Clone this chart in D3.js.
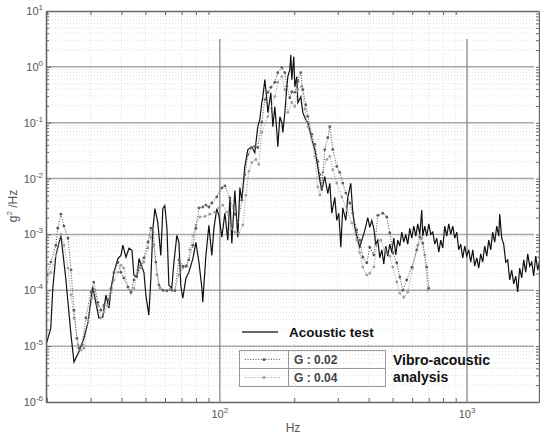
<!DOCTYPE html>
<html>
<head>
<meta charset="utf-8">
<script src="https://cdn.jsdelivr.net/npm/d3@7"></script>
<style>
  body { margin: 0; background: #fff; }
  text { font-family: "Liberation Sans", Arial, sans-serif; }
</style>
</head>
<body>
<svg id="chart" width="540" height="435"></svg>
<script>
// Acoustic test PSD (g^2/Hz)
var acousticHz = [19.8,20.7,21.1,21.7,22.75,23.8,25.0,25.7,26.9,28.2,
  29.3,30.6,32.4,33.6,34.6,35.6,36.3,37.3,38.7,39.8,
  40.5,41.7,42.9,44.1,44.9,46.2,47.1,48.4,49.3,50.2,
  51.6,52.6,53.6,54.6,56.1,57.7,58.8,59.9,61.1,62.2,
  63.9,65.2,67.0,68.3,69.5,70.8,72.9,74.9,77.8,80.0,
  82.3,84.6,85.3,87.8,90.3,92.8,94.6,97.2,99.1,101.9,
  104.8,107.7,109.8,111.8,115.0,118.2,120.5,122.7,126.2,129.8,
  134.7,138.5,142.4,145.1,147.8,149.2,152.1,154.9,156.4,160.8,
  163.8,166.9,170.1,171.6,174.9,178.2,179.8,183.2,186.6,188.4,
  191.9,193.7,195.5,199.1,201.0,204.8,206.8,212.6,216.6,222.7,
  227.0,235.5,242.2,249.0,253.8,258.5,265.8,273.3,278.5,283.7,
  291.7,297.2,302.9,308.6,314.2,323.3,329.4,338.7,345.1,351.6,
  361.4,368.2,375.2,385.8,396.7,404.2,411.8,
  419.5,427.4,435.5,443.6,452.0,460.5,469.2,477.9,486.9,496.1,
  505.3,514.8,524.5,534.4,544.5,554.6,565.1,575.7,586.6,597.6,
  608.9,620.3,632.0,643.9,656.0,662.1,674.5,687.1,700.1,713.3,
  726.7,740.4,754.3,768.5,783.0,797.6,812.6,827.9,843.5,859.3,
  875.5,892.0,908.8,925.6,943.0,960.7,978.8,997.2,1016,1035,
  1055,1074,1095,1115,1136,1157,1179,1202,1224,1247,
  1270,1294,1319,1344,1356,1381,1407,1434,1461,1488,
  1516,1545,1574,1603,1633,1664,1696,1728,1760,1793,
  1827,1861,1896,1932,1968];
var acousticG = [1.04e-5,2.1e-5,1.09e-4,4.2e-4,9.6e-4,1.64e-4,1.57e-5,5.2e-6,7.9e-6,1.39e-5,
  2.7e-5,1.15e-4,3.2e-5,3.3e-5,8.2e-5,4.8e-5,1.09e-4,2.1e-4,3.7e-4,4.2e-4,
  6.4e-4,3.9e-4,5.65e-4,5.2e-4,1.86e-4,1.7e-4,3.7e-4,2.6e-4,2.1e-4,8.2e-5,
  3.6e-5,1.64e-4,1.28e-3,2.9e-3,1.64e-3,4.2e-4,2.9e-3,3.3e-3,1.28e-3,1.23e-4,
  1.09e-4,3.2e-4,9.6e-4,7.2e-4,1.23e-4,7.2e-5,1.64e-4,2.1e-4,3.7e-4,7.2e-4,
  3.2e-4,1.09e-4,6.1e-5,4.2e-4,1.45e-3,4.2e-4,1.28e-3,2.9e-3,2.2e-3,8.9e-4,
  2.4e-3,7.9e-4,4.6e-3,6.9e-4,6.1e-3,8.9e-4,6.9e-3,4.1e-3,1.64e-2,3.3e-2,
  3.7e-2,2.9e-2,8.5e-2,0.113,0.228,0.29,0.59,0.26,0.151,0.344,
  8.5e-2,0.193,6.7e-2,3.7e-2,0.128,0.1,6.7e-2,0.151,0.44,0.67,
  0.89,1.64,0.59,1.51,0.44,0.67,0.228,0.29,0.151,0.113,
  0.1,5.0e-2,3.3e-2,1.64e-2,9.3e-3,6.1e-3,1.09e-2,5.4e-3,8.2e-3,2.4e-3,
  4.6e-3,1.78e-3,2.4e-3,5.9e-4,3.0e-3,1.78e-3,4.6e-3,8.2e-3,2.4e-3,1.34e-3,
  7.9e-4,5.9e-4,7.9e-4,1.18e-3,2.0e-3,1.34e-3,1.78e-3,
  1.29e-3,6.7e-4,7.9e-4,3.8e-4,5.3e-4,2.95e-4,6.2e-4,4.1e-4,6.7e-4,4.8e-4,
  8.6e-4,4.3e-4,7.9e-4,6.2e-4,1.1e-3,7.3e-4,1.0e-3,6.7e-4,1.29e-3,8.6e-4,
  1.41e-3,9.3e-4,1.54e-3,1.0e-3,2.73e-3,9.3e-4,1.41e-3,9.3e-4,1.54e-3,1.0e-3,
  1.1e-3,6.7e-4,8.6e-4,4.8e-4,7.9e-4,5.7e-4,1.41e-3,9.3e-4,1.54e-3,1.0e-3,
  1.41e-3,8.6e-4,1.1e-3,5.3e-4,6.7e-4,3.8e-4,6.2e-4,4.1e-4,5.3e-4,3.2e-4,
  5.3e-4,2.7e-4,3.8e-4,2.5e-4,4.5e-4,3.2e-4,6.2e-4,4.1e-4,7.9e-4,5.3e-4,
  1.1e-3,7.3e-4,1.41e-3,9.3e-4,2.32e-3,8.6e-4,6.7e-4,3.2e-4,3.5e-4,1.53e-4,
  2.3e-4,1.3e-4,1.8e-4,9.3e-5,2.5e-4,1.66e-4,3.5e-4,2.1e-4,4.5e-4,2.7e-4,
  3.2e-4,1.8e-4,4.1e-4,2.3e-4,3.5e-4];

// Vibro-acoustic analysis, G : 0.02
var g002Hz = [20.0,20.7,21.7,22.1,22.75,23.4,24.3,25.0,25.7,26.4,
  26.9,27.7,28.7,30.1,30.9,32.1,33.0,34.0,35.2,36.3,
  37.3,38.7,39.8,40.9,42.5,43.7,44.9,46.6,47.9,49.3,
  51.2,52.6,53.6,55.1,56.7,58.8,61.1,63.9,65.8,68.3,
  70.8,72.9,74.9,77.8,80.0,82.3,85.3,87.8,90.3,92.8,
  97.2,101.9,104.8,109.8,115.0,118.2,122.7,126.2,129.8,134.7,
  138.5,142.4,147.8,152.1,156.4,160.8,166.9,171.6,178.2,183.2,
  186.6,191.9,195.5,201.0,206.8,212.6,216.6,222.7,227.0,235.5,
  242.2,249.0,253.8,258.5,265.8,273.3,278.5,286.4,297.2,305.7,
  314.2,323.3,335.5,345.1,358.1,368.2,378.7,393.0,404.2,419.5,
  435.5,456.1,473.4,486.9,500.8,519.7,534.4,549.5,570.3,597.6,
  626,643.9,662.1,687.1,700.1];
var g002G = [1.87e-4,3.2e-4,6.4e-4,1.29e-3,2.3e-3,1.41e-3,8.6e-4,2.3e-4,4.4e-5,1.39e-5,
  9.2e-6,1.05e-5,3.2e-5,9.3e-5,1.4e-4,6.1e-5,4.4e-5,5.4e-5,6.7e-5,1.09e-4,
  2.1e-4,3.2e-4,2.1e-4,1.66e-4,1.14e-4,9.3e-5,1.53e-4,2.3e-4,2.8e-4,3.8e-4,
  7.3e-4,1.29e-3,1.1e-3,3.2e-4,1.24e-4,1.0e-4,9.8e-5,1.0e-4,9.8e-5,3.5e-4,
  2.7e-4,2.7e-4,3.5e-4,6.4e-4,1.29e-3,2.97e-3,3.1e-3,3.35e-3,3.1e-3,3.65e-3,
  4.7e-3,6.8e-3,7.4e-3,4.5e-3,2.3e-3,1.67e-3,4.1e-3,1.18e-2,2.7e-2,3.6e-2,
  3.75e-2,3.6e-2,0.101,0.26,0.35,0.43,0.53,0.79,0.97,0.79,
  0.45,0.28,0.36,0.35,0.55,0.79,0.39,0.21,0.13,6.2e-2,
  4.1e-2,2.0e-2,1.18e-2,6.8e-3,3.3e-2,5.4e-2,8.5e-2,3.3e-2,1.65e-2,1.29e-2,
  8.3e-3,5.5e-3,3.65e-3,2.4e-3,1.2e-3,7.9e-4,3.9e-4,3.1e-4,5.9e-4,4.3e-4,
  2.2e-3,2.4e-3,2.05e-3,1.06e-3,4.7e-4,3.1e-4,1.73e-4,1.0e-4,1.53e-4,2.6e-4,
  5.3e-4,9.0e-4,7.0e-4,2.6e-4,1.09e-4];

// Vibro-acoustic analysis, G : 0.04
var g004Hz = [20.0,20.7,21.7,22.75,23.4,24.3,25.0,25.7,26.7,27.4,
  28.2,29.3,30.4,31.2,32.1,33.0,34.0,35.2,36.3,37.3,
  38.7,39.8,40.9,42.5,43.7,44.9,46.6,47.9,49.3,51.2,
  52.6,54.1,55.6,57.2,59.9,62.8,65.8,68.3,70.8,73.6,
  75.6,77.8,80.0,83.0,87.0,91.1,95.5,99.1,102.8,106.7,
  110.8,115.0,119.3,123.9,127.4,131.0,134.7,139.8,143.8,147.8,
  156.4,166.9,171.6,178.2,183.2,188.4,195.5,201.0,206.8,214.6,
  220.7,227.0,235.5,242.2,249.0,253.8,260.9,270.8,278.5,286.4,
  297.2,311.3,326.3,341.8,358.1,368.2,378.7,393.0,404.2,419.5,
  431.5,447.8,464.8,486.9,500.8,519.7,534.4,554.6,575.7,603,
  632.0,656.0,674.5,693.7];
var g004G = [1.4e-4,2.1e-4,4.2e-4,1.0e-3,6.4e-4,2.5e-4,8.2e-5,3.2e-5,1.05e-5,8.5e-6,
  9.2e-6,2.9e-5,7.2e-5,1.0e-4,5.4e-5,3.2e-5,4.1e-5,5.4e-5,9.3e-5,1.53e-4,
  2.1e-4,2.8e-4,2.5e-4,1.14e-4,8.9e-5,1.09e-4,2.1e-4,2.5e-4,3.2e-4,5.7e-4,
  9.0e-4,6.4e-4,1.88e-4,1.09e-4,1.0e-4,1.05e-4,1.0e-4,1.88e-4,2.5e-4,2.7e-4,
  5.3e-4,9.7e-4,1.47e-3,2.05e-3,2.1e-3,2.3e-3,2.5e-3,2.97e-3,3.35e-3,2.5e-3,
  1.29e-3,1.1e-3,1.06e-3,1.47e-3,5.05e-3,1.34e-2,1.94e-2,2.2e-2,1.79e-2,6.7e-2,
  0.13,0.295,0.53,0.67,0.39,0.153,0.23,0.196,0.39,0.45,
  0.173,8.5e-2,5.0e-2,2.5e-2,7.1e-3,5.05e-3,1.29e-2,2.2e-2,2.5e-2,1.45e-2,
  8.3e-3,4.7e-3,2.73e-3,1.6e-3,7.9e-4,4.7e-4,2.6e-4,1.87e-4,2.0e-4,2.6e-4,
  6.4e-4,7.9e-4,5.3e-4,4.1e-4,2.6e-4,1.4e-4,8.9e-5,7.5e-5,9.3e-5,2.5e-4,
  6.4e-4,8.6e-4,4.3e-4,1.0e-4];

// axis ticks
var yMajor = [1e-6, 1e-5, 1e-4, 1e-3, 1e-2, 1e-1, 1, 10];
var yExp = ["-6", "-5", "-4", "-3", "-2", "-1", "0", "1"];
var xMajor = [100, 1000];
var xExp = ["2", "3"];
var minorMult = [2, 3, 4, 5, 6, 7, 8, 9];

var svg = d3.select("#chart");
var plotLeft = 46, plotRight = 539, plotTop = 11, plotBottom = 402;

var x = d3.scaleLog().domain([19.8, 1955]).range([plotLeft, plotRight]);
var y = d3.scaleLog().domain([1e-6, 10]).range([plotBottom, plotTop]);

// minor tick values
var xMinor = [];
[10, 100, 1000].forEach(function(dec) {
  minorMult.forEach(function(m) {
    var v = m * dec;
    if (v > 19.8 && v < 1955) xMinor.push(v);
  });
});
var yMinor = [];
yMajor.slice(0, 7).forEach(function(dec) {
  minorMult.forEach(function(m) { yMinor.push(m * dec); });
});

// minor grid (dotted)
svg.append("g").selectAll("line").data(xMinor).enter().append("line")
  .attr("x1", d => x(d)).attr("x2", d => x(d))
  .attr("y1", plotTop).attr("y2", plotBottom)
  .attr("stroke", "#d8d8d8").attr("stroke-width", 0.8).attr("stroke-dasharray", "1,2");
svg.append("g").selectAll("line").data(yMinor).enter().append("line")
  .attr("x1", plotLeft).attr("x2", 534)
  .attr("y1", d => y(d)).attr("y2", d => y(d))
  .attr("stroke", "#d8d8d8").attr("stroke-width", 0.8).attr("stroke-dasharray", "1,2");

// major grid
svg.append("g").selectAll("line").data(yMajor.slice(1, 7)).enter().append("line")
  .attr("x1", plotLeft).attr("x2", 534)
  .attr("y1", d => y(d)).attr("y2", d => y(d))
  .attr("stroke", "#a8a8a8").attr("stroke-width", 1.5);
svg.append("g").selectAll("line").data(xMajor).enter().append("line")
  .attr("x1", d => x(d)).attr("x2", d => x(d))
  .attr("y1", 39).attr("y2", plotBottom)
  .attr("stroke", "#8a8a8a").attr("stroke-width", 1.3);

// clip to plot area
svg.append("clipPath").attr("id", "clip").append("rect")
  .attr("x", plotLeft).attr("y", plotTop)
  .attr("width", plotRight - plotLeft).attr("height", plotBottom - plotTop);

var line = d3.line().x(d => x(d[0])).y(d => y(d[1]));
var plot = svg.append("g").attr("clip-path", "url(#clip)");

var acoustic = d3.zip(acousticHz, acousticG);
var g002 = d3.zip(g002Hz, g002G);
var g004 = d3.zip(g004Hz, g004G);

plot.append("path").datum(acoustic).attr("d", line)
  .attr("fill", "none").attr("stroke", "#111").attr("stroke-width", 1.2);

function dotted(data, color) {
  plot.append("path").datum(data).attr("d", line)
    .attr("fill", "none").attr("stroke", color).attr("stroke-width", 1.1)
    .attr("stroke-dasharray", "1,1.6");
  plot.append("g").selectAll("circle").data(data).enter().append("circle")
    .attr("cx", d => x(d[0])).attr("cy", d => y(d[1]))
    .attr("r", 1.4).attr("fill", color);
}
dotted(g004, "#a0a0a0");
dotted(g002, "#5e5e5e");

// axes: ticks only, labels drawn below with superscripts
var tickColor = "#666";
function styleAxis(g) {
  g.select(".domain").attr("stroke", tickColor).attr("stroke-width", 1.3);
  g.selectAll(".tick line").attr("stroke", tickColor);
}
svg.append("g").attr("transform", "translate(" + plotLeft + ",0)")
  .call(d3.axisLeft(y).tickValues(yMinor).tickSize(-3).tickFormat("").tickSizeOuter(0)).call(styleAxis);
svg.append("g").attr("transform", "translate(" + plotLeft + ",0)")
  .call(d3.axisLeft(y).tickValues(yMajor).tickSize(-5).tickFormat("").tickSizeOuter(0)).call(styleAxis);
svg.append("g").attr("transform", "translate(" + plotRight + ",0)")
  .call(d3.axisRight(y).tickValues(yMinor.concat(yMajor)).tickSize(-3).tickFormat("").tickSizeOuter(0)).call(styleAxis);
svg.append("g").attr("transform", "translate(0," + plotBottom + ")")
  .call(d3.axisBottom(x).tickValues(xMinor).tickSize(-4).tickFormat("").tickSizeOuter(0)).call(styleAxis);
svg.append("g").attr("transform", "translate(0," + plotTop + ")")
  .call(d3.axisTop(x).tickValues(xMinor).tickSize(-4).tickFormat("").tickSizeOuter(0)).call(styleAxis);

// tick labels
var yLab = svg.append("g").selectAll("text").data(yMajor).enter().append("text")
  .attr("x", 43).attr("y", d => y(d) + 4)
  .attr("text-anchor", "end").attr("font-size", 11).attr("fill", "#555");
yLab.append("tspan").text("10");
yLab.append("tspan").attr("dy", -5).attr("font-size", 8).text((d, i) => yExp[i]);

var xLab = svg.append("g").selectAll("text").data(xMajor).enter().append("text")
  .attr("x", d => x(d)).attr("y", 418)
  .attr("text-anchor", "middle").attr("font-size", 11).attr("fill", "#555");
xLab.append("tspan").text("10");
xLab.append("tspan").attr("dy", -5).attr("font-size", 8).text((d, i) => xExp[i]);

svg.append("text").attr("x", 293).attr("y", 432).attr("text-anchor", "middle")
  .attr("font-size", 12).attr("fill", "#555").text("Hz");

var yTitle = svg.append("text").attr("transform", "translate(17,206) rotate(-90)")
  .attr("text-anchor", "middle").attr("font-size", 12).attr("fill", "#555");
yTitle.append("tspan").text("g");
yTitle.append("tspan").attr("dy", -5).attr("font-size", 8).text("2");
yTitle.append("tspan").attr("dy", 5).text(" /Hz");

// legend
var legend = svg.append("g");
legend.append("line").attr("x1", 242).attr("x2", 278).attr("y1", 332).attr("y2", 332)
  .attr("stroke", "#333").attr("stroke-width", 1.5);
legend.append("text").attr("x", 289).attr("y", 337).attr("font-size", 13.5)
  .attr("font-weight", "bold").attr("fill", "#111").text("Acoustic test");

legend.append("rect").attr("x", 239.5).attr("y", 350.5).attr("width", 146).attr("height", 36)
  .attr("fill", "none").attr("stroke", "#999");
legend.append("line").attr("x1", 288.5).attr("x2", 288.5).attr("y1", 350.5).attr("y2", 386.5).attr("stroke", "#999");
legend.append("line").attr("x1", 239.5).attr("x2", 385.5).attr("y1", 368.5).attr("y2", 368.5).attr("stroke", "#999");

var legendRows = [{label: "G : 0.02", color: "#5e5e5e", yy: 359.5}, {label: "G : 0.04", color: "#a0a0a0", yy: 377.5}];
legendRows.forEach(function(r) {
  legend.append("line").attr("x1", 245).attr("x2", 281).attr("y1", r.yy).attr("y2", r.yy)
    .attr("stroke", r.color).attr("stroke-width", 1.1).attr("stroke-dasharray", "1,1.6");
  legend.append("circle").attr("cx", 264).attr("cy", r.yy).attr("r", 1.6).attr("fill", r.color);
  legend.append("text").attr("x", 294).attr("y", r.yy + 4.5).attr("font-size", 12)
    .attr("font-weight", "bold").attr("fill", "#444").text(r.label);
});
legend.append("text").attr("x", 393).attr("y", 365).attr("font-size", 14)
  .attr("font-weight", "bold").attr("fill", "#111").text("Vibro-acoustic");
legend.append("text").attr("x", 393).attr("y", 382).attr("font-size", 14)
  .attr("font-weight", "bold").attr("fill", "#111").text("analysis");
</script>
</body>
</html>
